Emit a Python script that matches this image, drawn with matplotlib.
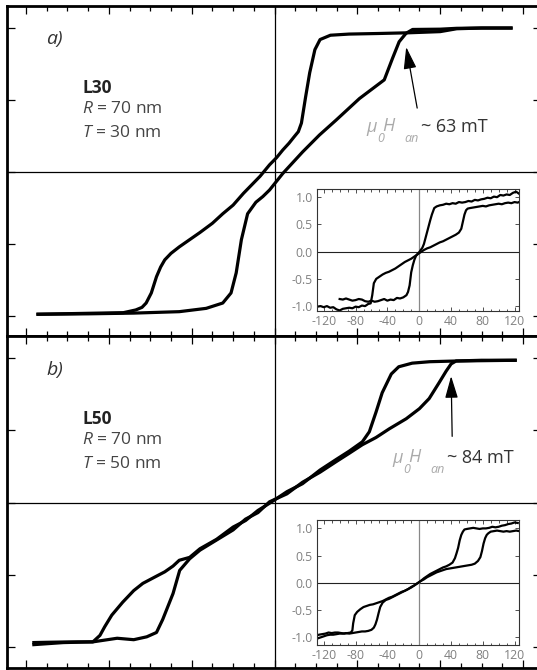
import matplotlib
matplotlib.use("Agg")
import matplotlib.pyplot as plt
from matplotlib.ticker import MultipleLocator, FormatStrFormatter

plt.rcParams['font.family'] = ['Open Sans', 'DejaVu Sans']
plt.rcParams['axes.unicode_minus'] = False
plt.rcParams['mathtext.fontset'] = 'custom'
plt.rcParams['mathtext.rm'] = 'Open Sans'
plt.rcParams['mathtext.it'] = 'Open Sans:italic'
plt.rcParams['mathtext.bf'] = 'Open Sans:bold'

# ---- panel a (L30), main loop, field in mT, M/Ms ----
a_desc_H = [115, 100, 88, 80, 65, 50, 36, 27, 22, 19.5, 17, 15, 13, 11.5, 9.5, 7, 4, 1, -2.4, -7,
            -15, -20, -25, -30, -36, -41, -46, -50, -53, -55, -57, -59.5, -62, -64, -67, -73, -85, -100, -115]
a_desc_M = [1.0, 1.0, 0.995, 0.975, 0.967, 0.962, 0.958, 0.95, 0.92, 0.85, 0.69, 0.52, 0.34, 0.28, 0.245, 0.20, 0.153, 0.10, 0.05, -0.03,
            -0.148, -0.23, -0.29, -0.356, -0.42, -0.47, -0.52, -0.565, -0.61, -0.66, -0.727, -0.84, -0.91, -0.94, -0.958, -0.977, -0.98, -0.984, -0.988]
a_asc_H = [-115, -90, -68, -46, -33, -25, -21, -18.5, -16, -13, -9, -5.6, -2.4, 4, 13.6, 21.7, 29.7, 41, 53, 57,
           60.2, 63.5, 66.7, 80, 88, 100, 115]
a_asc_M = [-0.988, -0.985, -0.98, -0.97, -0.947, -0.91, -0.84, -0.70, -0.47, -0.29, -0.21, -0.17, -0.125, -0.01, 0.14, 0.257, 0.36, 0.51, 0.64, 0.79,
           0.905, 0.963, 0.99, 0.992, 0.998, 1.0, 1.0]

# ---- panel a inset ----
ia_A_H = [126, 122, 118, 114, 110, 106, 102, 98, 94, 90, 86, 82, 78, 74, 70, 66, 62, 58, 54, 50, 46, 42, 38, 34, 30, 26, 22, 19,
          16, 14, 12, 10, 8, 6, 4, 2, 0, -2, -4, -6, -8, -10, -12, -14, -16, -20, -24, -28, -32, -36, -40, -44, -48, -52,
          -56, -60, -64, -68, -72, -76, -80, -84, -88, -92, -96, -100]
ia_A_M = [1.06, 1.10, 1.08, 1.04, 1.05, 1.03, 1.04, 1.00, 1.01, 0.98, 0.99, 0.97, 0.96, 0.94, 0.95, 0.92, 0.93, 0.91, 0.90, 0.91, 0.88, 0.89, 0.87, 0.88, 0.86, 0.85, 0.83, 0.80,
          0.68, 0.58, 0.47, 0.36, 0.25, 0.14, 0.07, 0.03, -0.01, -0.04, -0.08, -0.15, -0.25, -0.38, -0.62, -0.74, -0.80, -0.84, -0.86, -0.85, -0.89, -0.88, -0.90, -0.87, -0.89, -0.91,
          -0.92, -0.90, -0.92, -0.91, -0.88, -0.87, -0.89, -0.90, -0.88, -0.86, -0.88, -0.87]
ia_B_H = [-128, -124, -120, -116, -112, -108, -104, -100, -96, -92, -88, -84, -80, -76, -72, -68, -64, -61, -59, -57,
          -54, -50, -46, -42, -38, -34, -30, -26, -22, -18, -14, -10, -6, -2, 2, 6, 10, 14, 18, 22,
          26, 30, 34, 38, 42, 46, 50, 53, 55, 57, 59, 61, 64, 68, 72, 76, 80, 84, 88, 92,
          96, 100, 104, 108, 112, 116, 120, 124, 127]
ia_B_M = [-1.01, -1.00, -1.02, -1.00, -1.03, -1.02, -1.06, -1.08, -1.05, -1.04, -1.03, -1.04, -1.01, -1.02, -0.99, -1.00, -0.96, -0.95, -0.80, -0.58,
          -0.50, -0.46, -0.42, -0.39, -0.37, -0.34, -0.31, -0.27, -0.23, -0.19, -0.16, -0.13, -0.09, -0.05, -0.01, 0.03, 0.06, 0.08, 0.11, 0.14,
          0.17, 0.19, 0.22, 0.25, 0.28, 0.31, 0.35, 0.42, 0.55, 0.68, 0.76, 0.79, 0.80, 0.81, 0.82, 0.83, 0.84, 0.83, 0.85, 0.86,
          0.87, 0.88, 0.87, 0.89, 0.90, 0.89, 0.91, 0.90, 0.92]

# ---- panel b (L50), main loop ----
b_desc_H = [117, 100, 88, 75, 66.5, 60, 56.4, 52, 49, 45.8, 42.4, 36, 30, 22, 13.5, 6, -2.4, -8, -14, -20,
            -28, -36, -41, -46, -49, -53, -57, -63.6, -68, -73.3, -78.6, -82, -84.3, -87.7, -95, -102, -110, -117]
b_desc_M = [0.985, 0.982, 0.98, 0.975, 0.965, 0.94, 0.89, 0.76, 0.625, 0.49, 0.42, 0.355, 0.30, 0.225, 0.13, 0.075, -0.005, -0.055, -0.125, -0.17,
            -0.255, -0.32, -0.38, -0.40, -0.44, -0.48, -0.51, -0.56, -0.61, -0.69, -0.78, -0.86, -0.92, -0.965, -0.965, -0.966, -0.968, -0.97]
b_asc_H = [-117, -102, -87.7, -76, -68, -61.7, -57, -54, -49, -45.8, -41, -36, -28, -20, -14, -8, -2.4, 6, 13.5, 22,
           30, 36, 42.4, 49, 55.4, 63.6, 70, 74.7, 79.5, 82.9, 85.3, 87.7, 100, 117]
b_asc_M = [-0.985, -0.97, -0.965, -0.94, -0.95, -0.93, -0.90, -0.81, -0.63, -0.47, -0.39, -0.33, -0.26, -0.19, -0.115, -0.07, 0.005, 0.06, 0.14, 0.21,
           0.285, 0.34, 0.40, 0.45, 0.51, 0.58, 0.65, 0.72, 0.83, 0.91, 0.96, 0.98, 0.985, 0.985]

# ---- panel b inset ----
ib_A_H = [124, 120, 116, 112, 108, 104, 100, 96, 92, 88, 84, 80, 76, 72, 68, 64, 60, 57, 55, 53,
          51, 49, 47, 45, 42, 38, 34, 30, 26, 22, 18, 14, 10, 6, 2, -2, -6, -10, -14, -18,
          -22, -26, -30, -34, -38, -42, -46, -50, -54, -58, -62, -66, -70, -74, -78, -81, -83, -84, -86, -90,
          -94, -98, -102, -106, -110, -114, -118, -122, -126, -128]
ib_A_M = [1.10, 1.11, 1.09, 1.08, 1.06, 1.05, 1.03, 1.02, 1.03, 1.01, 1.00, 1.00, 0.99, 1.00, 1.01, 1.00, 0.99, 0.98, 0.94, 0.88,
          0.78, 0.64, 0.54, 0.45, 0.37, 0.33, 0.30, 0.28, 0.25, 0.22, 0.19, 0.16, 0.12, 0.08, 0.03, -0.01, -0.05, -0.09, -0.12, -0.15,
          -0.17, -0.20, -0.23, -0.26, -0.28, -0.31, -0.34, -0.36, -0.38, -0.40, -0.41, -0.43, -0.45, -0.49, -0.54, -0.60, -0.75, -0.88, -0.92, -0.93,
          -0.94, -0.93, -0.92, -0.92, -0.93, -0.92, -0.94, -0.95, -0.96, -0.97]
ib_B_H = [-128, -124, -120, -116, -112, -108, -104, -100, -96, -92, -88, -84, -80, -76, -72, -68, -64, -60, -57, -55,
          -53, -51, -49, -46, -42, -38, -34, -30, -26, -22, -18, -14, -10, -6, -2, 2, 6, 10, 14, 18,
          22, 26, 30, 34, 38, 42, 46, 50, 54, 58, 62, 66, 70, 74, 77, 79, 81, 83, 85, 87,
          90, 94, 98, 102, 106, 110, 114, 118, 122, 126, 128]
ib_B_M = [-1.03, -1.01, -0.99, -0.97, -0.96, -0.96, -0.95, -0.94, -0.94, -0.93, -0.94, -0.93, -0.92, -0.91, -0.90, -0.90, -0.89, -0.87, -0.83, -0.77,
          -0.68, -0.56, -0.45, -0.37, -0.32, -0.30, -0.27, -0.24, -0.21, -0.18, -0.15, -0.12, -0.08, -0.05, -0.01, 0.03, 0.06, 0.10, 0.13, 0.16,
          0.19, 0.21, 0.23, 0.25, 0.26, 0.27, 0.28, 0.29, 0.30, 0.31, 0.32, 0.33, 0.35, 0.40, 0.47, 0.58, 0.72, 0.82, 0.88, 0.91,
          0.94, 0.95, 0.96, 0.95, 0.94, 0.95, 0.94, 0.95, 0.96, 0.95, 0.97]

W, H = 537, 670
fig = plt.figure(figsize=(W / 100, H / 100), dpi=100)


def rect(x0, y0, x1, y1):
    # pixel box (top-left origin) -> figure fraction rect
    return [x0 / W, 1 - y1 / H, (x1 - x0) / W, (y1 - y0) / H]


def put(x, y, s, **kw):
    fig.text(x / W, 1 - y / H, s, va='baseline', ha='left', **kw)


def main_axes(box, ylim):
    ax = fig.add_axes(rect(*box))
    ax.set_xlim(-129.2, 128.7)
    ax.set_ylim(*ylim)
    ax.xaxis.set_major_locator(MultipleLocator(40))
    ax.xaxis.set_minor_locator(MultipleLocator(10))
    ax.yaxis.set_major_locator(MultipleLocator(0.5))
    ax.tick_params(which='both', direction='in', top=True, right=True,
                   labelbottom=False, labelleft=False, width=0.9)
    ax.tick_params(which='major', length=6)
    ax.tick_params(which='minor', length=3.5)
    for s in ax.spines.values():
        s.set_linewidth(2)
    ax.axhline(0, color='black', lw=0.9)
    ax.axvline(0, color='black', lw=0.9)
    return ax


def inset(box, xlim, ylim):
    ax = fig.add_axes(rect(*box))
    ax.set_xlim(*xlim)
    ax.set_ylim(*ylim)
    ax.set_xticks([-120, -80, -40, 0, 40, 80, 120])
    ax.xaxis.set_minor_locator(MultipleLocator(10))
    ax.set_yticks([-1, -0.5, 0, 0.5, 1])
    ax.xaxis.set_major_formatter(FormatStrFormatter('%d'))
    ax.yaxis.set_major_formatter(FormatStrFormatter('%.1f'))
    ax.tick_params(which='both', direction='in', top=True, right=True,
                   labelsize=8.8, labelcolor='#808080', color='#333333', width=0.6, pad=3)
    ax.tick_params(which='major', length=3)
    ax.tick_params(which='minor', length=1.8)
    for s in ax.spines.values():
        s.set_linewidth(0.8)
        s.set_color('#333333')
    ax.axhline(0, color='#222222', lw=0.8)
    ax.axvline(0, color='#888888', lw=0.9)
    return ax


line_kw = dict(color='black', lw=2.3, solid_joinstyle='round', solid_capstyle='butt')
inset_kw = dict(color='black', lw=1.6, solid_joinstyle='round')
arrow_kw = dict(arrowstyle='-|>,head_length=0.75,head_width=0.22', color='black',
                lw=0.9, mutation_scale=18, shrinkA=0, shrinkB=0)

# panel a
ax_a = main_axes((7, 6, 541, 336), (-1.139, 1.153))
ax_a.plot(a_desc_H, a_desc_M, **line_kw)
ax_a.plot(a_asc_H, a_asc_M, **line_kw)
ax_a.annotate('', xy=(63.6, 0.868), xytext=(68.9, 0.444), arrowprops=arrow_kw)

in_a = inset((317, 189, 519, 311), (-128.5, 125.6), (-1.09, 1.15))
in_a.plot(ia_A_H, ia_A_M, **inset_kw)
in_a.plot(ia_B_H, ia_B_M, **inset_kw)

# panel b
ax_b = main_axes((7, 336, 541, 668), (-1.146, 1.153))
ax_b.plot(b_desc_H, b_desc_M, **line_kw)
ax_b.plot(b_asc_H, b_asc_M, **line_kw)
ax_b.annotate('', xy=(85.3, 0.875), xytext=(85.8, 0.458), arrowprops=arrow_kw)

in_b = inset((317, 520, 519, 645), (-128.5, 125.6), (-1.15, 1.155))
in_b.plot(ib_A_H, ib_A_M, **inset_kw)
in_b.plot(ib_B_H, ib_B_M, **inset_kw)

# labels
panels = [(0, 'a)', 'L30', '30'), (331, 'b)', 'L50', '50')]
for dy, tag, name, tval in panels:
    put(46, 44 + dy, tag, fontsize=14, style='italic', color='#333333')
    put(82, 93 + dy, name, fontsize=12.5, weight='bold', color='#222222')
    put(82, 113 + dy, '$R$ = 70 nm', fontsize=12.5, color='#444444')
    put(82, 137 + dy, '$T$ = ' + tval + ' nm', fontsize=12.5, color='#444444')

notes = [(366, 132, '63'), (392, 463, '84')]
for x0, yb, val in notes:
    put(x0, yb, 'μ', fontsize=13, style='italic', color='#aaaaaa')
    put(x0 + 11, yb + 10, '0', fontsize=9, style='italic', color='#aaaaaa')
    put(x0 + 16, yb - 1, 'H', fontsize=13, style='italic', color='#aaaaaa')
    put(x0 + 38, yb + 10, 'an', fontsize=9, style='italic', color='#aaaaaa')
    put(x0 + 55, yb, '~ ' + val + ' mT', fontsize=13, color='#333333')

fig.savefig('out.png', dpi=100)
